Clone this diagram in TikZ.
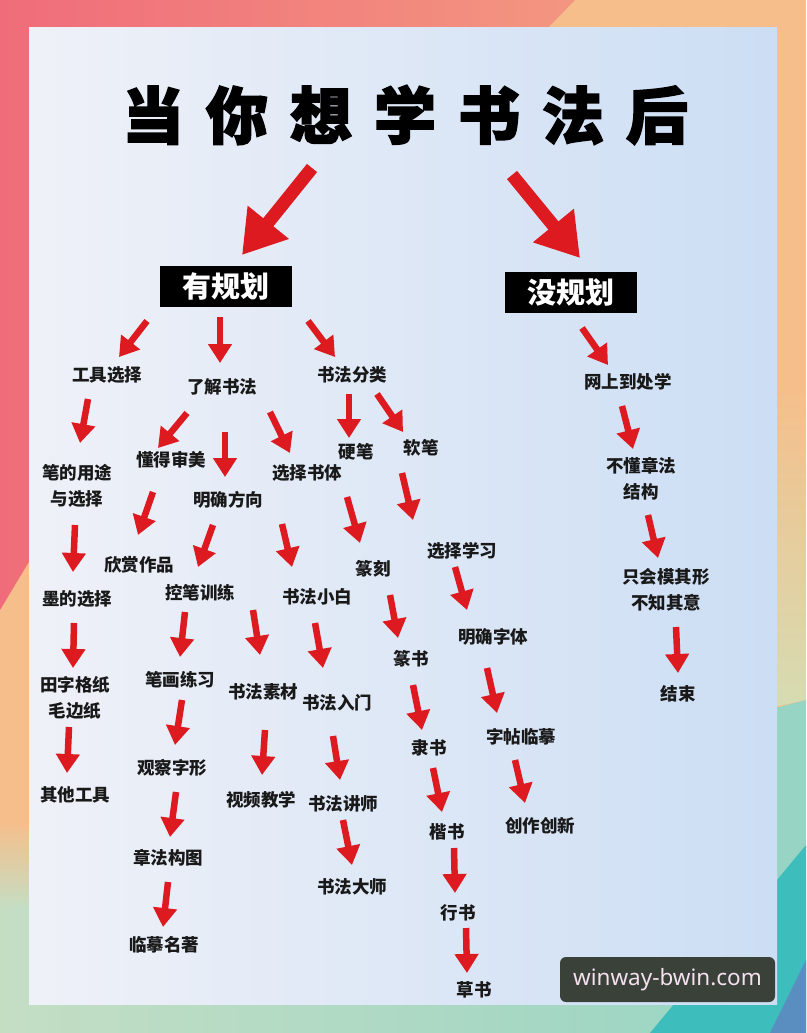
\documentclass[tikz,border=0pt]{standalone}
\usepackage{fontspec}
\setmainfont{Noto Sans CJK SC}
\newfontfamily\titlefont{Noto Sans CJK SC}[FakeBold=2.5]
\newfontfamily\wmfont{Noto Sans}
\usetikzlibrary{arrows.meta}
\definecolor{arrred}{RGB}{221,26,32}
\definecolor{coral}{RGB}{240,108,122}
\definecolor{salmon}{RGB}{243,150,128}
\definecolor{peach}{RGB}{246,190,138}
\definecolor{palegreen}{RGB}{196,222,196}
\definecolor{paleyel}{RGB}{214,220,178}
\definecolor{mint}{RGB}{150,212,196}
\definecolor{teal}{RGB}{62,189,189}
\definecolor{cornerblue}{RGB}{90,142,192}
\definecolor{panelL}{RGB}{239,241,248}
\definecolor{panelR}{RGB}{204,222,244}
\definecolor{wmbg}{RGB}{57,65,57}
\definecolor{wmtext}{RGB}{245,224,240}
\newcommand\myarr[3]{\coordinate (#1t) at (#2); \coordinate (#1h) at (#3); \draw[arr] (#1t) -- (#1h);}
\begin{document}
\begin{tikzpicture}[x=1pt,y=-1pt,
  arr/.style={line width=6.5pt, draw=arrred, -{Triangle[width=23pt,length=19pt]}},
  bigarr/.style={line width=13pt, draw=arrred, -{Triangle[width=50pt,length=42pt]}},
  lbl/.style={font=\bfseries\fontsize{17.5}{26}\selectfont, text=black!90, inner sep=0pt, align=center},
  plan/.style={fill=black, text=white, minimum width=132pt, minimum height=41pt, inner sep=0pt, font=\bfseries\fontsize{29}{29}\selectfont},
  titlestyle/.style={font=\titlefont\bfseries\fontsize{62}{62}\selectfont, text=black, inner sep=0pt}]
\useasboundingbox (0,0) rectangle (806,1033);
% background
\fill[peach] (0,0) rectangle (806,1033);
\shade[left color=coral, right color=salmon] (0,0) -- (575,0) -- (30,560) -- (0,610) -- cycle;
\shade[top color=peach, bottom color=paleyel] (760,380) -- (806,380) -- (806,700) -- (760,710) -- cycle;
\shade[top color=peach, bottom color=palegreen] (0,820) -- (40,820) -- (40,900) -- (0,910) -- cycle;
\shade[left color=palegreen, right color=mint] (0,910) -- (806,700) -- (806,1033) -- (0,1033) -- cycle;
\fill[teal] (650,1033) -- (806,845) -- (806,1033) -- cycle;
\fill[cornerblue] (770,1033) -- (806,960) -- (806,1033) -- cycle;
% panel
\shade[left color=panelL, right color=panelR] (29,28) rectangle (777,1004);
% title
\node[titlestyle] (title) at (405,115) {当\hspace{22pt}你\hspace{22pt}想\hspace{22pt}学\hspace{22pt}书\hspace{22pt}法\hspace{22pt}后};
% plan boxes
\node[plan] (yes) at (226,286) {有规划};
\node[plan] (no) at (571,292) {没规划};
% big arrows
\coordinate (B1t) at (312,168); \coordinate (B1h) at (242,255);
\coordinate (B2t) at (512,175); \coordinate (B2h) at (580,258);
\draw[bigarr] (B1t) -- (B1h);
\draw[bigarr] (B2t) -- (B2h);
% labels
\node[lbl] (tool) at (107,375) {工具选择};
\node[lbl] (pen) at (77,486) {笔的用途\\与选择};
\node[lbl] (ink) at (77,599) {墨的选择};
\node[lbl] (paper) at (75,698) {田字格纸\\毛边纸};
\node[lbl] (other) at (75,795) {其他工具};
\node[lbl] (know) at (222,387) {了解书法};
\node[lbl] (aesth) at (171,460) {懂得审美};
\node[lbl] (dir) at (228,500) {明确方向};
\node[lbl] (choose) at (307,473) {选择书体};
\node[lbl] (enjoy) at (139,565) {欣赏作品};
\node[lbl] (ctrl) at (200,593) {控笔训练};
\node[lbl] (novice) at (317,597) {书法小白};
\node[lbl] (stroke) at (180,680) {笔画练习};
\node[lbl] (material) at (263,692) {书法素材};
\node[lbl] (intro) at (337,703) {书法入门};
\node[lbl] (observe) at (172,768) {观察字形};
\node[lbl] (video) at (261,800) {视频教学};
\node[lbl] (lecturer) at (343,804) {书法讲师};
\node[lbl] (layout) at (168,858) {章法构图};
\node[lbl] (master) at (352,887) {书法大师};
\node[lbl] (copy) at (164,945) {临摹名著};
\node[lbl] (cat) at (352,375) {书法分类};
\node[lbl] (hard) at (356,452) {硬笔};
\node[lbl] (soft) at (421,448) {软笔};
\node[lbl] (seal) at (373,569) {篆刻};
\node[lbl] (sel) at (462,551) {选择学习};
\node[lbl] (zhuan) at (411,659) {篆书};
\node[lbl] (fontsel) at (493,637) {明确字体};
\node[lbl] (li) at (429,748) {隶书};
\node[lbl] (tie) at (521,737) {字帖临摹};
\node[lbl] (kai) at (447,832) {楷书};
\node[lbl] (create) at (540,826) {创作创新};
\node[lbl] (xing) at (458,913) {行书};
\node[lbl] (cao) at (474,990) {草书};
\node[lbl] (online) at (628,382) {网上到处学};
\node[lbl] (nostruct) at (641,479) {不懂章法\\结构};
\node[lbl] (imit) at (666,590) {只会模其形\\不知其意};
\node[lbl] (fin) at (678,694) {结束};
% small arrows
\myarr{a1}{147,321}{119,357}
\myarr{a2}{88,399}{80,443}
\myarr{a3}{75,525}{73,572}
\myarr{a4}{74,623}{73,668}
\myarr{a5}{69,727}{67,773}
\myarr{a6}{220,317}{220,363}
\myarr{a7}{187,413}{158,448}
\myarr{a8}{225,432}{225,477}
\myarr{a9}{270,412}{290,453}
\myarr{a10}{153,492}{138,535}
\myarr{a11}{213,525}{198,567}
\myarr{a12}{282,524}{292,567}
\myarr{a13}{185,612}{180,657}
\myarr{a14}{253,610}{260,655}
\myarr{a15}{315,623}{323,668}
\myarr{a16}{182,700}{175,745}
\myarr{a17}{265,730}{262,775}
\myarr{a18}{333,736}{340,780}
\myarr{a19}{176,792}{170,837}
\myarr{a20}{343,820}{352,865}
\myarr{a21}{168,882}{163,927}
\myarr{a22}{308,321}{335,357}
\myarr{a23}{349,394}{349,438}
\myarr{a24}{377,394}{403,432}
\myarr{a25}{347,497}{360,543}
\myarr{a26}{402,473}{413,520}
\myarr{a27}{390,595}{398,638}
\myarr{a28}{455,567}{467,610}
\myarr{a29}{413,685}{422,730}
\myarr{a30}{487,668}{497,713}
\myarr{a31}{433,768}{442,812}
\myarr{a32}{515,760}{525,803}
\myarr{a33}{454,848}{455,893}
\myarr{a34}{466,928}{467,973}
\myarr{a35}{582,328}{608,365}
\myarr{a36}{622,406}{633,449}
\myarr{a37}{648,515}{658,558}
\myarr{a38}{676,627}{678,673}
% watermark
\node[fill=wmbg, rounded corners=6pt, minimum width=215pt, minimum height=45pt, inner sep=0pt, text=wmtext, font=\wmfont\fontsize{22.5}{22.5}\selectfont] (wm) at (667.5,979.5) {winway-bwin.com};
\end{tikzpicture}
\end{document}
